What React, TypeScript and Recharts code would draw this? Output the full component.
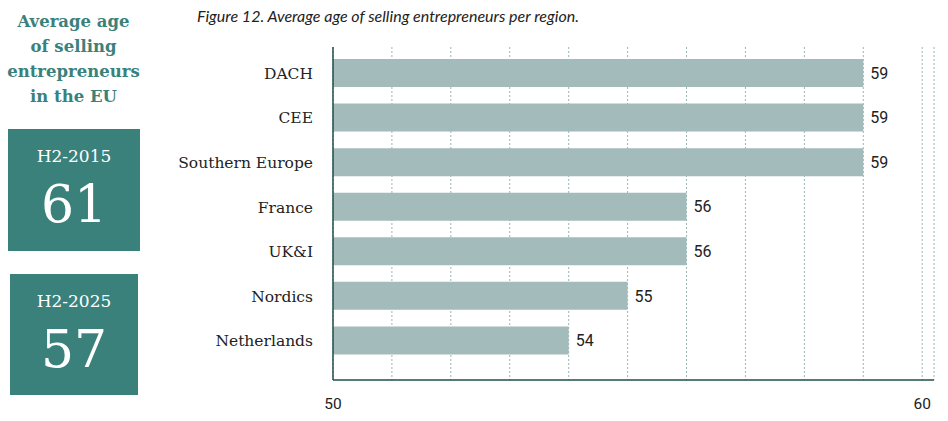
import { Bar, BarChart, CartesianGrid, LabelList, XAxis, YAxis } from "recharts"

const regions = ["DACH", "CEE", "Southern Europe", "France", "UK&I", "Nordics", "Netherlands"]
const avgAge = [59, 59, 59, 56, 56, 55, 54]
const xTicks = [50, 51, 52, 53, 54, 55, 56, 57, 58, 59, 60]
const xTickLabels = [50, 60]

const panelTitle = ["Average age", "of selling", "entrepreneurs", "in the EU"]
const periods = ["H2-2015", "H2-2025"]
const periodAges = [61, 57]

const TEAL = "#3a817c"
const BAR = "#a3bbbb"
const AXIS = "#1f4f47"

const data = regions.map((region, i) => ({ region, age: avgAge[i] }))

function StatBox({ label, value, top, left, width, height }: { label: string; value: number; top: number; left: number; width: number; height: number }) {
  return (
    <div
      style={{
        position: "absolute",
        top,
        left,
        width,
        height,
        background: TEAL,
        color: "#fff",
        fontFamily: "DejaVu Serif",
        textAlign: "center",
      }}
    >
      <div style={{ position: "absolute", top: 17, width: "100%", fontSize: 17 }}>{label}</div>
      <div style={{ position: "absolute", top: 44, width: "100%", fontSize: 52, lineHeight: "62px" }}>{value}</div>
    </div>
  )
}

export default function App() {
  return (
    <div style={{ position: "absolute", top: 0, left: 0, width: 948, height: 421, background: "#fff" }}>
      <div
        style={{
          position: "absolute",
          top: 9,
          left: 0,
          width: 147,
          textAlign: "center",
          color: TEAL,
          fontFamily: "DejaVu Serif",
          fontWeight: "bold",
          fontSize: 16.5,
          lineHeight: "25px",
        }}
      >
        {panelTitle.map((line) => (
          <div key={line}>{line}</div>
        ))}
      </div>
      <StatBox label={periods[0]} value={periodAges[0]} top={129} left={8} width={132} height={122} />
      <StatBox label={periods[1]} value={periodAges[1]} top={274} left={10} width={128} height={121} />

      <div
        style={{
          position: "absolute",
          top: 6,
          left: 197,
          fontFamily: "Lato",
          fontStyle: "italic",
          fontSize: 16,
          color: "#222",
        }}
      >
        Figure 12. Average age of selling entrepreneurs per region.
      </div>

      <div style={{ position: "absolute", top: 0, left: 0 }}>
        <BarChart
          width={948}
          height={421}
          data={data}
          layout="vertical"
          margin={{ top: 47, right: 14, bottom: 11, left: 0 }}
          barSize={28}
        >
          <CartesianGrid horizontal={false} vertical stroke="#9bb5b5" strokeDasharray="2 2" />
          <XAxis
            type="number"
            domain={[50, 60.2]}
            ticks={xTicks}
            allowDataOverflow
            height={30}
            tickFormatter={(v: number) => (xTickLabels.includes(v) ? String(v) : "")}
            axisLine={{ stroke: AXIS, strokeWidth: 1.5 }}
            tickLine={false}
            tickSize={6}
            tickMargin={12}
            tick={{ fill: "#222", fontSize: 15.5, fontFamily: "Roboto" }}
          />
          <YAxis
            type="category"
            dataKey="region"
            width={333}
            padding={{ top: 4, bottom: 17 }}
            axisLine={{ stroke: AXIS, strokeWidth: 1.5 }}
            tickLine={false}
            tickSize={20}
            tickMargin={0}
            tick={{ fill: "#222", fontSize: 15.5, fontFamily: "DejaVu Serif" }}
          />
          <Bar dataKey="age" fill={BAR} isAnimationActive={false}>
            <LabelList
              dataKey="age"
              position="right"
              offset={7}
              style={{ fill: "#222", fontSize: 16, fontFamily: "Roboto" }}
            />
          </Bar>
        </BarChart>
      </div>
    </div>
  )
}
